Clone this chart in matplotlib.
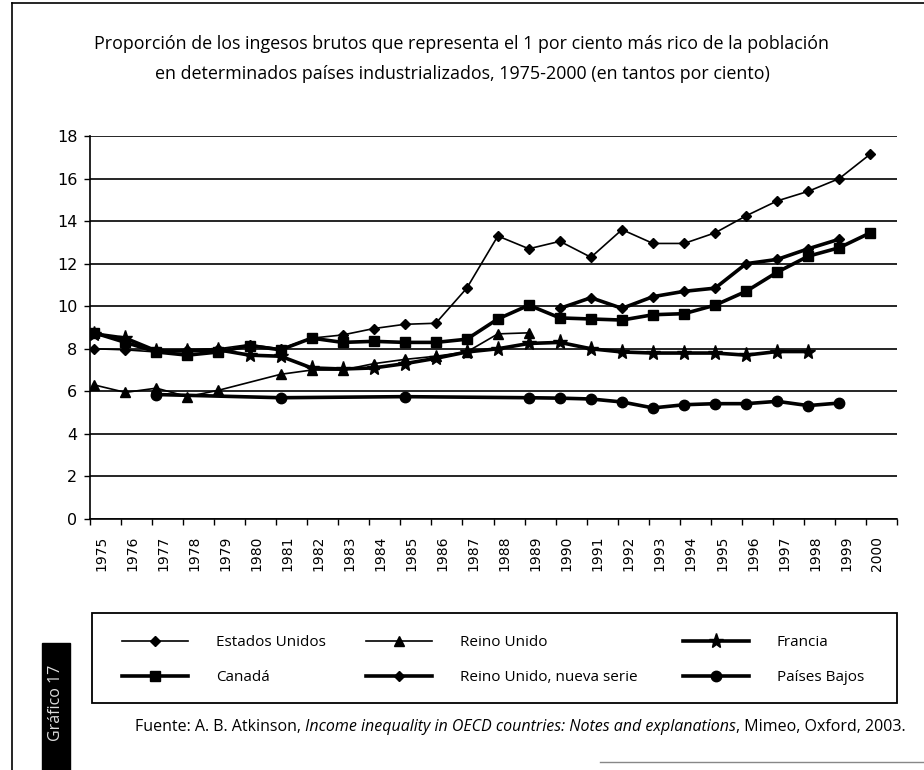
import matplotlib as mpl
mpl.use('Agg')
import matplotlib.pyplot as plt
from matplotlib.patches import Rectangle
from matplotlib.lines import Line2D

# years on the category axis
years = list(range(1975, 2001))
year_labels = [str(y) for y in years]

# Estados Unidos
us_years = list(range(1975, 2001))
us = [8.0, 7.95, 7.85, 7.95, 8.0, 8.2, 8.0, 8.5, 8.65, 8.95, 9.15, 9.2, 10.85,
      13.3, 12.7, 13.05, 12.3, 13.6, 12.95, 12.95, 13.45, 14.25, 14.95, 15.4, 16.0, 17.15]
# Canada
ca_years = list(range(1975, 2001))
ca = [8.75, 8.3, 7.85, 7.7, 7.85, 8.15, 7.95, 8.5, 8.3, 8.35, 8.3, 8.3, 8.45,
      9.4, 10.05, 9.45, 9.4, 9.35, 9.6, 9.65, 10.05, 10.7, 11.6, 12.35, 12.75, 13.45]
# Reino Unido (no 1980)
uk_years = [1975, 1976, 1977, 1978, 1979, 1981, 1982, 1983, 1984, 1985, 1986, 1987, 1988, 1989]
uk = [6.3, 5.95, 6.15, 5.75, 6.05, 6.8, 7.0, 7.0, 7.3, 7.5, 7.65, 7.85, 8.7, 8.75]
# Francia
fr_years = list(range(1975, 1999))
fr = [8.7, 8.5, 7.9, 7.9, 7.95, 7.7, 7.65, 7.1, 7.05, 7.1, 7.3, 7.55, 7.85,
      8.0, 8.25, 8.3, 8.0, 7.85, 7.8, 7.8, 7.8, 7.7, 7.87, 7.87]
# Reino Unido, nueva serie
ukn_years = list(range(1990, 2000))
ukn = [9.9, 10.4, 9.9, 10.45, 10.7, 10.85, 12.0, 12.2, 12.7, 13.15]
# Paises Bajos
nl_years = [1977, 1981, 1985, 1989, 1990, 1991, 1992, 1993, 1994, 1995, 1996, 1997, 1998, 1999]
nl = [5.85, 5.7, 5.75, 5.7, 5.68, 5.64, 5.5, 5.22, 5.37, 5.42, 5.42, 5.53, 5.33, 5.45]

title = ("Proporción de los ingesos brutos que representa el 1 por ciento más rico de la población\n"
         "en determinados países industrializados, 1975-2000 (en tantos por ciento)")
txt_font = ['Open Sans', 'DejaVu Sans']

W, H = 924, 770
fig = plt.figure(figsize=(W / 100, H / 100), dpi=100)
fig.patch.set_facecolor('white')

# plot area in pixels: x 90..897, y 136..519
ax = fig.add_axes([90 / W, 1 - 519 / H, (897 - 90) / W, (519 - 136) / H])

def idx(ys):
    return [y - 1975 for y in ys]

ax.plot(idx(us_years), us, color='black', lw=1.2, marker='D', ms=5, label='Estados Unidos', zorder=5)
ax.plot(idx(ca_years), ca, color='black', lw=2.6, marker='s', ms=7.5, label='Canadá', zorder=4)
ax.plot(idx(uk_years), uk, color='black', lw=1.2, marker='^', ms=7.5, label='Reino Unido', zorder=5)
ax.plot(idx(ukn_years), ukn, color='black', lw=2.6, marker='D', ms=5.5, label='Reino Unido, nueva serie', zorder=4)
ax.plot(idx(fr_years), fr, color='black', lw=2.6, marker='*', ms=11, label='Francia', zorder=4)
ax.plot(idx(nl_years), nl, color='black', lw=2.6, marker='o', ms=7.5, label='Países Bajos', zorder=4)

off = 0.14
ax.set_xlim(-off, len(years) - off)
ax.set_ylim(0, 18)
ax.set_yticks(range(0, 19, 2))
ax.tick_params(axis='y', labelsize=11.5, length=4, width=1, pad=5, direction='out')
ax.yaxis.grid(True, color='black', lw=1.2)
ax.set_axisbelow(True)

# tick marks between categories, labels near the middle
ax.set_xticks([k - off for k in range(len(years) + 1)])
ax.set_xticklabels([])
ax.tick_params(axis='x', which='major', length=4, width=1, direction='out')
ax.set_xticks([i + 0.36 - off for i in range(len(years))], minor=True)
ax.set_xticklabels(year_labels, minor=True, rotation=90, fontsize=10)
ax.tick_params(axis='x', which='minor', length=0, pad=12)

for s in ['top', 'right']:
    ax.spines[s].set_visible(False)
ax.spines['left'].set_linewidth(1.2)
ax.spines['bottom'].set_linewidth(1.2)

fig.text(462 / W, 1 - 59 / H, title, ha='center', va='center', fontsize=12.9,
         family=txt_font, linespacing=1.8)

# legend: box and three columns
fig.patches.append(Rectangle((92 / W, 1 - 703 / H), (897 - 92) / W, 90 / H,
                             transform=fig.transFigure, fill=False, ec='black', lw=1.3))
h, l = ax.get_legend_handles_labels()
hm = dict(zip(l, h))
cols = [(122, ['Estados Unidos', 'Canadá']),
        (366, ['Reino Unido', 'Reino Unido, nueva serie']),
        (683, ['Francia', 'Países Bajos'])]
for x0, labs in cols:
    fig.legend([hm[k] for k in labs], labs, loc='center left',
               bbox_to_anchor=(x0 / W, 1 - 660 / H), frameon=False,
               handlelength=4.3, handletextpad=1.85, labelspacing=1.3,
               borderpad=0, borderaxespad=0,
               prop={'family': txt_font, 'size': 11})

# source line with italic title
fig.canvas.draw()
r = fig.canvas.get_renderer()
parts = [("Fuente: A. B. Atkinson, ", 'normal'),
         ("Income inequality in OECD countries: Notes and explanations", 'italic'),
         (", Mimeo, Oxford, 2003.", 'normal')]
xp = 135
for s, st in parts:
    t = fig.text(xp / W, 1 - 727 / H, s, ha='left', va='center', fontsize=11.5,
                 family=txt_font, style=st)
    bb = t.get_window_extent(renderer=r)
    xp += bb.width

# Grafico 17 tab
fig.patches.append(Rectangle((42 / W, 0), 28 / W, (770 - 643) / H,
                             transform=fig.transFigure, color='black'))
fig.text(56 / W, 1 - 703 / H, 'Gráfico 17', rotation=90, ha='center', va='center',
         color='#dddddd', fontsize=11.5, family=txt_font)

# page frame
fig.lines.append(Line2D([12 / W, 12 / W], [0, 1 - 3 / H], transform=fig.transFigure, color='black', lw=1.2))
fig.lines.append(Line2D([12 / W, 1], [1 - 3 / H, 1 - 3 / H], transform=fig.transFigure, color='black', lw=1.2))
fig.lines.append(Line2D([600 / W, 1], [1 - 762 / H, 1 - 762 / H], transform=fig.transFigure, color='#888888', lw=1))

fig.savefig('out.png', dpi=100)
